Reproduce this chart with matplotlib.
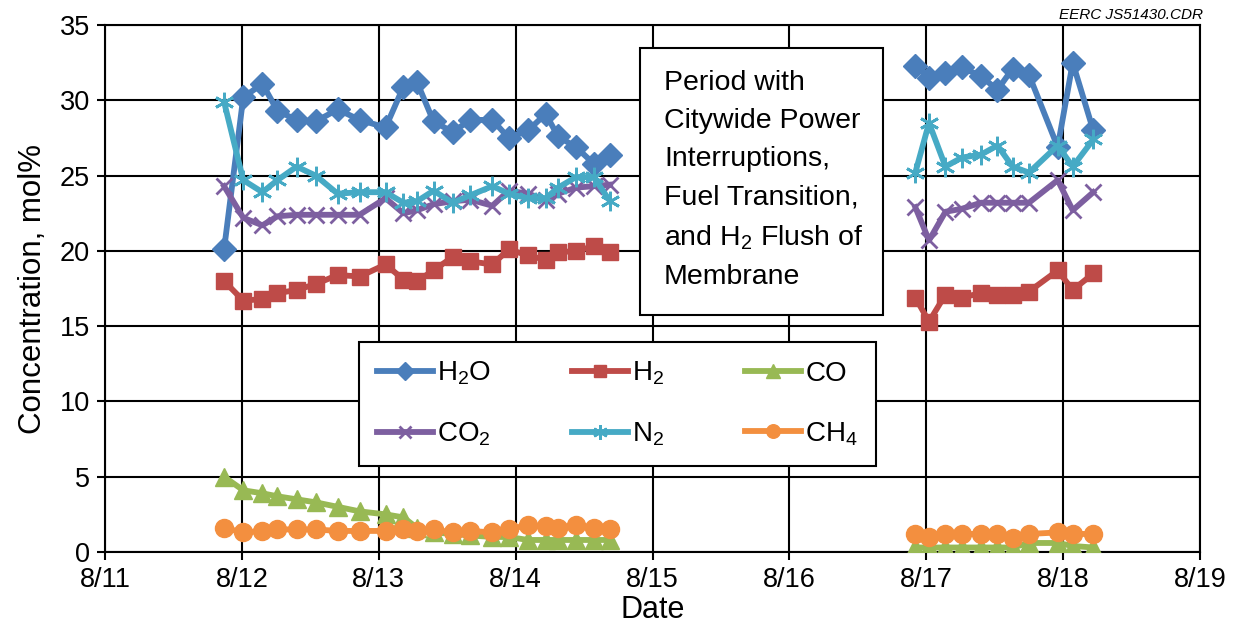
import numpy as np
import matplotlib
matplotlib.use("Agg")
import matplotlib.pyplot as plt
from matplotlib.patches import Rectangle

plt.rcParams['font.family'] = ['Liberation Sans', 'DejaVu Sans']
plt.rcParams['mathtext.default'] = 'regular'

# ---- data (day of August) ----
t_a = [11.87, 12.01, 12.15, 12.26, 12.40, 12.54, 12.70, 12.86, 13.05, 13.18, 13.28,
       13.40, 13.54, 13.67, 13.83, 13.95, 14.09, 14.22, 14.31, 14.44, 14.57, 14.69]
t_b = [16.92, 17.02, 17.14, 17.26, 17.40, 17.52, 17.63, 17.75, 17.96, 18.07, 18.22]

h2o_a = [20.1, 30.2, 31.1, 29.3, 28.7, 28.6, 29.4, 28.7, 28.2, 30.9, 31.2,
         28.6, 27.9, 28.7, 28.7, 27.5, 28.0, 29.1, 27.6, 26.9, 25.8, 26.4]
h2o_b = [32.3, 31.5, 31.8, 32.2, 31.6, 30.7, 32.1, 31.7, 26.9, 32.5, 28.0]

h2_a = [18.0, 16.7, 16.8, 17.2, 17.4, 17.8, 18.4, 18.3, 19.1, 18.1, 18.0,
        18.7, 19.6, 19.3, 19.1, 20.1, 19.7, 19.4, 19.9, 20.0, 20.3, 19.9]
h2_b = [16.9, 15.3, 17.1, 16.9, 17.2, 17.1, 17.1, 17.3, 18.7, 17.4, 18.5]

co_a = [5.0, 4.1, 3.9, 3.7, 3.5, 3.3, 3.0, 2.7, 2.5, 2.3, 1.6,
        1.3, 1.2, 1.1, 1.0, 1.0, 0.8, 0.8, 0.8, 0.8, 0.8, 0.8]
co_b = [0.3, 0.3, 0.3, 0.3, 0.3, 0.3, 0.3, 0.6, 0.6, 0.4, 0.3]

co2_a = [24.3, 22.2, 21.7, 22.3, 22.4, 22.4, 22.4, 22.4, 23.5, 22.5, 22.7,
         23.1, 23.3, 23.4, 23.0, 24.0, 23.8, 23.4, 23.8, 24.2, 24.3, 24.4]
co2_b = [22.9, 20.7, 22.6, 22.8, 23.2, 23.2, 23.2, 23.2, 24.7, 22.7, 23.9]

n2_a = [29.9, 24.7, 23.9, 24.7, 25.6, 25.0, 23.8, 23.9, 23.9, 23.2, 23.3,
        24.0, 23.2, 23.7, 24.3, 23.8, 23.5, 23.5, 24.2, 24.9, 24.9, 23.3]
n2_b = [25.2, 28.5, 25.6, 26.2, 26.4, 27.0, 25.6, 25.2, 27.0, 25.6, 27.4]

ch4_a = [1.6, 1.3, 1.4, 1.5, 1.5, 1.5, 1.4, 1.4, 1.4, 1.5, 1.4,
         1.5, 1.3, 1.4, 1.3, 1.5, 1.8, 1.7, 1.6, 1.8, 1.6, 1.5]
ch4_b = [1.2, 1.0, 1.2, 1.2, 1.2, 1.2, 0.9, 1.2, 1.3, 1.2, 1.2]

x_ticks = [11, 12, 13, 14, 15, 16, 17, 18, 19]
x_tick_labels = ['8/11', '8/12', '8/13', '8/14', '8/15', '8/16', '8/17', '8/18', '8/19']
y_ticks = [0, 5, 10, 15, 20, 25, 30, 35]

series = [
    ('H$_2$O', h2o_a, h2o_b, '#4A7EBB', 'D', 12.5, {}),
    ('H$_2$', h2_a, h2_b, '#BE4B48', 's', 12, {}),
    ('CO', co_a, co_b, '#98B954', '^', 13, {}),
    ('CO$_2$', co2_a, co2_b, '#7D5FA0', 'x', 12, {'markeredgewidth': 2}),
    ('N$_2$', n2_a, n2_b, '#46AAC5', (6, 2, 0), 14, {'markeredgewidth': 2}),
    ('CH$_4$', ch4_a, ch4_b, '#F38F3F', 'o', 13, {}),
]

fig = plt.figure(figsize=(12.41, 6.43), dpi=100)
ax = fig.add_axes([0.0846, 0.1415, 0.8824, 0.8195])

handles = {}
for i, (name, ya, yb, col, mk, ms, kw) in enumerate(series):
    for j, (tt, yy) in enumerate(((t_a, ya), (t_b, yb))):
        ln, = ax.plot(tt, yy, color=col, lw=4.2, marker=mk, markersize=ms,
                      markerfacecolor=col, markeredgecolor=col,
                      label=name if j == 0 else None, zorder=3 + i, **kw)
        if j == 0:
            handles[name] = ln

ax.set_xlim(11, 19)
ax.set_ylim(0, 35)
ax.set_xticks(x_ticks)
ax.set_xticklabels(x_tick_labels)
ax.set_yticks(y_ticks)
ax.grid(True, color='black', lw=1.5, zorder=0)
ax.set_axisbelow(True)
for s in ax.spines.values():
    s.set_color('black')
    s.set_linewidth(1.5)
ax.tick_params(axis='both', labelsize=19.5, length=6, width=1.5, direction='out',
               color='black', pad=5)
ax.set_xlabel('Date', fontsize=22, labelpad=1)
ax.set_ylabel('Concentration, mol%', fontsize=22.5, labelpad=8)

order = ['H$_2$O', 'CO$_2$', 'H$_2$', 'N$_2$', 'CO', 'CH$_4$']
leg = ax.legend([handles[k] for k in order], order, ncol=3, loc='lower left',
                bbox_to_anchor=(0.232, 0.163, 0.472, 0.234), mode='expand',
                fontsize=20, frameon=True, fancybox=False, framealpha=1,
                edgecolor='black', handlelength=2.0, borderaxespad=0,
                borderpad=0.65, labelspacing=1.2, columnspacing=1.0,
                handletextpad=0.15, markerscale=0.75)
leg.get_frame().set_linewidth(1.5)
leg.set_zorder(20)

# annotation box
ax.add_patch(Rectangle((0.4886, 0.4497), 0.2219, 0.5066, transform=ax.transAxes,
                       facecolor='white', edgecolor='black', lw=1.5, zorder=19))
ax.text(0.5105, 0.706,
        'Period with\nCitywide Power\nInterruptions,\nFuel Transition,\nand H$_2$ Flush of\nMembrane',
        transform=ax.transAxes, ha='left', va='center', fontsize=20.5, linespacing=1.61,
        zorder=20)

fig.text(0.969, 0.988, 'EERC JS51430.CDR', ha='right', va='top', fontsize=11,
         style='italic')

fig.savefig('out.png', dpi=100, facecolor='white')
